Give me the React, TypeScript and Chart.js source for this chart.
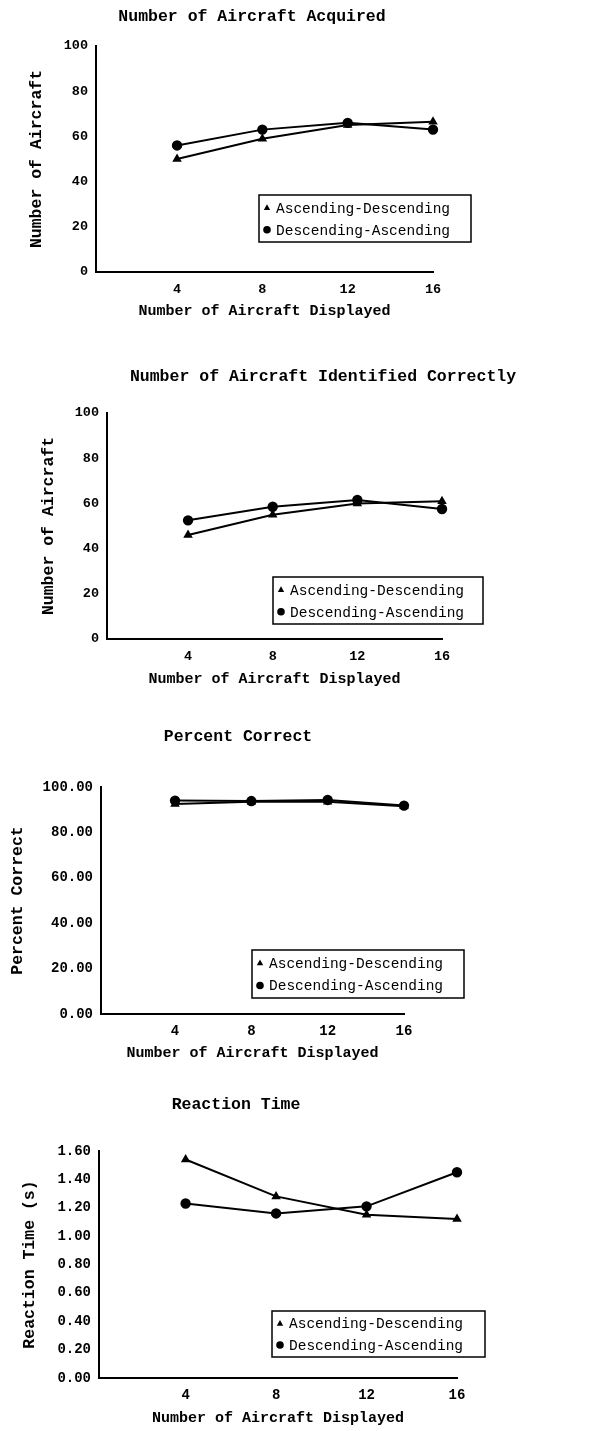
import React, { useEffect, useRef } from "react";
import { Chart, registerables } from "chart.js";

Chart.register(...registerables);

// ---------- data ----------
const xValues = [4, 8, 12, 16];
const seriesNames = ["Ascending-Descending", "Descending-Ascending"];

const acquiredAscDesc = [50, 59, 65, 66.5];
const acquiredDescAsc = [56, 63, 66, 63];

const identifiedAscDesc = [46, 55, 60, 61];
const identifiedDescAsc = [52.5, 58.5, 61.5, 57.5];

const percentAscDesc = [92.5, 93.5, 93.5, 91.5];
const percentDescAsc = [94, 93.8, 94.3, 91.8];

const reactionAscDesc = [1.54, 1.28, 1.15, 1.12];
const reactionDescAsc = [1.23, 1.16, 1.21, 1.45];

const countTicks = [0, 20, 40, 60, 80, 100];
const percentTicks = [0, 20, 40, 60, 80, 100];
const reactionTicks = [0, 0.2, 0.4, 0.6, 0.8, 1.0, 1.2, 1.4, 1.6];

const titles = [
  "Number of Aircraft Acquired",
  "Number of Aircraft Identified Correctly",
  "Percent Correct",
  "Reaction Time",
];
const yTitles = ["Number of Aircraft", "Number of Aircraft", "Percent Correct", "Reaction Time (s)"];
const xTitle = "Number of Aircraft Displayed";

// ---------- layout / style ----------
const FONT = "'Liberation Mono', 'DejaVu Sans Mono', monospace";
const W = 615;

type Panel = {
  title: string;
  yTitle: string;
  ad: number[];
  da: number[];
  yTicks: number[];
  decimals: number;
  top: number;
  height: number;
  xMin: number;
  area: { left: number; right: number; top: number; bottom: number };
  titlePos: { x: number; y: number };
  yTitleX: number;
  xTitleY: number;
  legendBox: { x: number; y: number; w: number; h: number };
  tickSize: number;
};

const panels: Panel[] = [
  {
    title: titles[0], yTitle: yTitles[0], ad: acquiredAscDesc, da: acquiredDescAsc,
    yTicks: countTicks, decimals: 0, top: 0, height: 330, xMin: 0.2,
    area: { left: 96, right: 433, top: 46, bottom: 272 },
    titlePos: { x: 252, y: 17 }, yTitleX: 37, xTitleY: 311,
    legendBox: { x: 259, y: 195, w: 212, h: 47 }, tickSize: 13.5,
  },
  {
    title: titles[1], yTitle: yTitles[1], ad: identifiedAscDesc, da: identifiedDescAsc,
    yTicks: countTicks, decimals: 0, top: 330, height: 370, xMin: 0.17,
    area: { left: 107, right: 442, top: 83, bottom: 309 },
    titlePos: { x: 323, y: 47 }, yTitleX: 49, xTitleY: 349,
    legendBox: { x: 273, y: 247, w: 210, h: 47 }, tickSize: 13.5,
  },
  {
    title: titles[2], yTitle: yTitles[2], ad: percentAscDesc, da: percentDescAsc,
    yTicks: percentTicks, decimals: 2, top: 700, height: 368, xMin: 0.12,
    area: { left: 101, right: 404, top: 87, bottom: 314 },
    titlePos: { x: 238, y: 37 }, yTitleX: 18, xTitleY: 353,
    legendBox: { x: 252, y: 250, w: 212, h: 48 }, tickSize: 14,
  },
  {
    title: titles[3], yTitle: yTitles[3], ad: reactionAscDesc, da: reactionDescAsc,
    yTicks: reactionTicks, decimals: 2, top: 1068, height: 363, xMin: 0.17,
    area: { left: 99, right: 457, top: 83, bottom: 310 },
    titlePos: { x: 236, y: 37 }, yTitleX: 30, xTitleY: 350,
    legendBox: { x: 272, y: 243, w: 213, h: 46 }, tickSize: 14,
  },
];

function drawMarker(ctx: CanvasRenderingContext2D, style: string, x: number, y: number, r: number) {
  ctx.beginPath();
  if (style === "triangle") {
    ctx.moveTo(x, y - r * 1.1);
    ctx.lineTo(x + r, y + r * 0.7);
    ctx.lineTo(x - r, y + r * 0.7);
    ctx.closePath();
  } else {
    ctx.arc(x, y, r, 0, Math.PI * 2);
  }
  ctx.fill();
}

function makeChart(canvas: HTMLCanvasElement, p: Panel) {
  const yMax = p.yTicks[p.yTicks.length - 1];
  const decor = {
    id: "decor",
    afterDraw(chart: any) {
      const ctx: CanvasRenderingContext2D = chart.ctx;
      ctx.save();
      ctx.fillStyle = "#000";
      ctx.strokeStyle = "#000";
      // title
      ctx.font = `bold 16.5px ${FONT}`;
      ctx.textAlign = "center";
      ctx.textBaseline = "middle";
      ctx.fillText(p.title, p.titlePos.x, p.titlePos.y);
      // legend box
      const b = p.legendBox;
      ctx.lineWidth = 1.5;
      ctx.strokeRect(b.x, b.y, b.w, b.h);
      ctx.font = `14.5px ${FONT}`;
      ctx.textAlign = "left";
      chart.data.datasets.forEach((ds: any, i: number) => {
        const cy = b.y + b.h * (i === 0 ? 0.27 : 0.74);
        drawMarker(ctx, ds.pointStyle, b.x + 8, cy, i === 0 ? 3.2 : 3.8);
        ctx.fillText(ds.label, b.x + 17, cy + 1);
      });
      ctx.restore();
    },
  };

  return new Chart(canvas, {
    type: "line",
    data: {
      datasets: [
        {
          label: seriesNames[0],
          data: xValues.map((x, i) => ({ x, y: p.ad[i] })),
          borderColor: "#000",
          borderWidth: 2,
          pointStyle: "triangle",
          pointRadius: 3.5,
          pointBackgroundColor: "#000",
          pointBorderColor: "#000",
          tension: 0,
          clip: false,
        },
        {
          label: seriesNames[1],
          data: xValues.map((x, i) => ({ x, y: p.da[i] })),
          borderColor: "#000",
          borderWidth: 2,
          pointStyle: "circle",
          pointRadius: 4.2,
          pointBackgroundColor: "#000",
          pointBorderColor: "#000",
          tension: 0,
          clip: false,
        },
      ],
    },
    options: {
      animation: false,
      responsive: false,
      maintainAspectRatio: false,
      devicePixelRatio: 1,
      layout: { padding: { left: 0, top: p.area.top, right: W - p.area.right, bottom: 0 } },
      plugins: { legend: { display: false }, tooltip: { enabled: false }, title: { display: false } },
      scales: {
        x: {
          type: "linear",
          min: p.xMin,
          max: 16,
          afterFit: (s: any) => { s.height = p.height - p.area.bottom; },
          afterBuildTicks: (s: any) => { s.ticks = xValues.map((v) => ({ value: v })); },
          grid: { display: false, drawTicks: false },
          border: { display: true, color: "#000", width: 2 },
          ticks: {
            color: "#000",
            autoSkip: false,
            maxRotation: 0,
            padding: 9,
            font: { family: FONT, size: p.tickSize, weight: "bold" },
            callback: (v: any) => String(v),
          },
          title: {
            display: true,
            text: xTitle,
            color: "#000",
            font: { family: FONT, size: 15, weight: "bold", lineHeight: 1 },
            padding: { top: 0, bottom: Math.max(0, p.height - p.xTitleY - 7.5) },
          },
        },
        y: {
          type: "linear",
          min: 0,
          max: yMax,
          afterFit: (s: any) => { s.width = p.area.left; },
          afterBuildTicks: (s: any) => { s.ticks = p.yTicks.map((v) => ({ value: v })); },
          grid: { display: false, drawTicks: false },
          border: { display: true, color: "#000", width: 2 },
          ticks: {
            color: "#000",
            autoSkip: false,
            padding: 8,
            font: { family: FONT, size: p.tickSize, weight: "bold" },
            callback: (v: any) => Number(v).toFixed(p.decimals),
          },
          title: {
            display: true,
            text: p.yTitle,
            color: "#000",
            font: { family: FONT, size: 16.5, weight: "bold", lineHeight: 1 },
            padding: { top: p.yTitleX - 8.25, bottom: 0 },
          },
        },
      },
    },
    plugins: [decor],
  } as any);
}

function Panel({ p }: { p: Panel }) {
  const ref = useRef<HTMLCanvasElement | null>(null);
  useEffect(() => {
    if (!ref.current) return;
    const c = makeChart(ref.current, p);
    return () => c.destroy();
  }, [p]);
  return (
    <canvas
      ref={ref}
      width={W}
      height={p.height}
      style={{ position: "absolute", left: 0, top: p.top, width: W, height: p.height }}
    />
  );
}

export default function App() {
  return (
    <div style={{ position: "absolute", left: 0, top: 0, width: W, height: 1431, background: "#fff" }}>
      {panels.map((p, i) => (
        <Panel key={i} p={p} />
      ))}
    </div>
  );
}
